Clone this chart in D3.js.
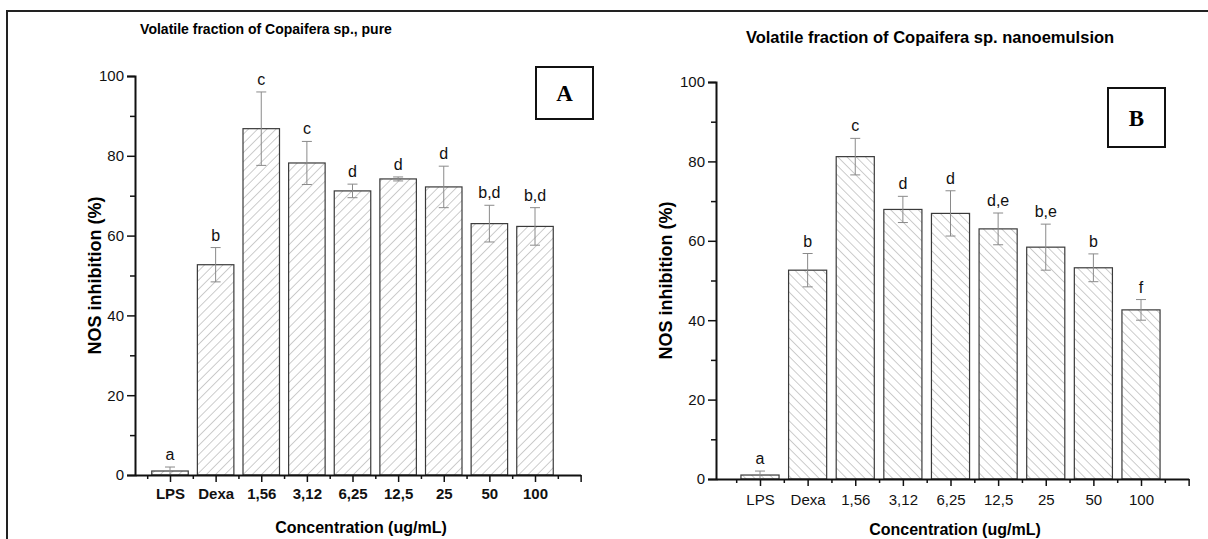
<!DOCTYPE html>
<html lang="en">
<head>
    <meta charset="utf-8">
    <title>NOS inhibition - Copaifera sp.</title>
    <script src="https://d3js.org/d3.v7.min.js"></script>
    <style>
        body { margin: 0; background: white; }
        text { font-family: Arial, "Liberation Sans", sans-serif; }
    </style>
</head>
<body>
    <div id="chart"></div>
    <script>
        // categories shared by both panels
        const categories = ["LPS", "Dexa", "1,56", "3,12", "6,25", "12,5", "25", "50", "100"];

        // panel A: pure volatile fraction
        const pureMeans = [1.0, 52.7, 86.8, 78.2, 71.2, 74.2, 72.2, 63.0, 62.3];
        const pureErrors = [1.0, 4.3, 9.2, 5.4, 1.7, 0.5, 5.2, 4.6, 4.7];
        const pureLetters = ["a", "b", "c", "c", "d", "d", "d", "b,d", "b,d"];

        // panel B: nanoemulsion
        const nanoMeans = [1.0, 52.6, 81.2, 67.9, 66.9, 63.0, 58.4, 53.2, 42.6];
        const nanoErrors = [1.0, 4.2, 4.6, 3.3, 5.7, 4.0, 5.8, 3.5, 2.6];
        const nanoLetters = ["a", "b", "c", "d", "d", "d,e", "b,e", "b", "f"];

        const yTicks = [0, 20, 40, 60, 80, 100];

        const width = 1208, height = 539;
        const svg = d3.select("#chart").append("svg")
            .attr("width", width)
            .attr("height", height);

        // hatch patterns: "/" for A, "\" for B
        const defs = svg.append("defs");
        function hatch(id, dir) {
            const p = defs.append("pattern")
                .attr("id", id)
                .attr("patternUnits", "userSpaceOnUse")
                .attr("width", 6.5).attr("height", 6.5)
                .attr("patternTransform", "rotate(" + dir + ")");
            p.append("rect").attr("width", 6.5).attr("height", 6.5).attr("fill", "white");
            p.append("line")
                .attr("x1", 0).attr("y1", 0).attr("x2", 0).attr("y2", 6.5)
                .attr("stroke", "#9a9a9a").attr("stroke-width", 1);
        }
        hatch("hatchA", 45);
        hatch("hatchB", -45);

        // outer frame (top + left edge)
        svg.append("line").attr("x1", 6).attr("y1", 11).attr("x2", width).attr("y2", 11)
            .attr("stroke", "#222").attr("stroke-width", 2);
        svg.append("line").attr("x1", 7).attr("y1", 11).attr("x2", 7).attr("y2", height)
            .attr("stroke", "#222").attr("stroke-width", 2);

        function drawPanel(opt) {
            const g = svg.append("g");
            // category k sits at position k+1; axis starts where the y axis is
            const x = d3.scaleLinear().domain([1, 9]).range([opt.xFirst, opt.xLast]);
            const xStart = x.invert(opt.x0);
            const y = d3.scaleLinear().domain([0, 100]).range([opt.y0, opt.yTop]);
            const barW = (x(2) - x(1)) * 0.8;

            // bars
            g.selectAll("rect.bar")
                .data(opt.means)
                .enter().append("rect")
                .attr("class", "bar")
                .attr("x", (d, i) => x(i + 1) - barW / 2)
                .attr("y", d => y(d))
                .attr("width", barW)
                .attr("height", d => y(0) - y(d))
                .attr("fill", "url(#" + opt.pattern + ")")
                .attr("stroke", "#3a3a3a")
                .attr("stroke-width", 1.2);

            // error bars
            const eb = g.selectAll("g.err")
                .data(opt.means)
                .enter().append("g")
                .attr("stroke", "#8a8a8a")
                .attr("stroke-width", 1);
            eb.append("line")
                .attr("x1", (d, i) => x(i + 1)).attr("x2", (d, i) => x(i + 1))
                .attr("y1", (d, i) => y(d + opt.errs[i]))
                .attr("y2", (d, i) => y(d - opt.errs[i]));
            eb.append("line")
                .attr("x1", (d, i) => x(i + 1) - 5).attr("x2", (d, i) => x(i + 1) + 5)
                .attr("y1", (d, i) => y(d + opt.errs[i]))
                .attr("y2", (d, i) => y(d + opt.errs[i]));
            eb.append("line")
                .attr("x1", (d, i) => x(i + 1) - 5).attr("x2", (d, i) => x(i + 1) + 5)
                .attr("y1", (d, i) => y(Math.max(0, d - opt.errs[i])))
                .attr("y2", (d, i) => y(Math.max(0, d - opt.errs[i])));

            // significance letters
            g.selectAll("text.letter")
                .data(opt.means)
                .enter().append("text")
                .attr("x", (d, i) => x(i + 1))
                .attr("y", (d, i) => y(d + opt.errs[i]) - 7)
                .attr("text-anchor", "middle")
                .style("font-size", "16px")
                .attr("fill", "#111")
                .text((d, i) => opt.letters[i]);

            // y axis
            const yAxis = g.append("g")
                .attr("transform", "translate(" + opt.x0 + ",0)")
                .call(d3.axisLeft(y).tickValues(yTicks).tickSize(8).tickPadding(3));
            g.append("g")
                .attr("transform", "translate(" + opt.x0 + ",0)")
                .call(d3.axisLeft(y).tickValues([10, 30, 50, 70, 90]).tickSize(5).tickFormat(""))
                .call(a => a.select(".domain").remove());

            // x axis, running from the y axis to one step past the last bar
            const xAx = x.copy().domain([xStart, 10]).range([opt.x0, x(10)]);
            const xAxis = g.append("g")
                .attr("transform", "translate(0," + opt.y0 + ")")
                .call(d3.axisBottom(xAx).tickValues(d3.range(1, 11)).tickSize(7).tickPadding(opt.xPad)
                    .tickSizeOuter(0)
                    .tickFormat(d => (d >= 1 && d <= 9) ? categories[d - 1] : ""));
            g.append("g")
                .attr("transform", "translate(0," + opt.y0 + ")")
                .call(d3.axisBottom(xAx).tickValues(d3.range(0.5, 10, 1).filter(v => v > xStart)).tickSize(4).tickFormat(""))
                .call(a => a.select(".domain").remove());

            g.selectAll(".domain").attr("stroke", "#111").attr("stroke-width", 2);
            g.selectAll(".tick line").attr("stroke", "#111").attr("stroke-width", 1.5);
            yAxis.selectAll("text").style("font-size", "15px").attr("fill", "#111");
            xAxis.selectAll("text")
                .style("font-size", "15px")
                .style("font-weight", opt.boldX ? "bold" : "normal")
                .attr("fill", "#111");

            // titles
            g.append("text")
                .attr("x", opt.titleX).attr("y", opt.titleY)
                .attr("text-anchor", "middle")
                .style("font-size", opt.titleSize).style("font-weight", "bold")
                .text(opt.title);
            g.append("text")
                .attr("x", opt.xTitleX).attr("y", opt.xTitleY)
                .attr("text-anchor", "middle")
                .style("font-size", "16px").style("font-weight", "bold")
                .text("Concentration (ug/mL)");
            g.append("text")
                .attr("transform", "translate(" + opt.yTitleX + "," + (opt.y0 + opt.yTop) / 2 + ") rotate(-90)")
                .attr("text-anchor", "middle")
                .style("font-size", "18px").style("font-weight", "bold")
                .text("NOS inhibition (%)");

            // panel label box
            g.append("rect")
                .attr("x", opt.box[0]).attr("y", opt.box[1])
                .attr("width", opt.box[2]).attr("height", opt.box[3])
                .attr("fill", "white").attr("stroke", "#111").attr("stroke-width", 2);
            g.append("text")
                .attr("x", opt.box[0] + opt.box[2] / 2)
                .attr("y", opt.box[1] + opt.box[3] / 2 + 8)
                .attr("text-anchor", "middle")
                .style("font-family", "'Liberation Serif', 'Times New Roman', serif")
                .style("font-size", "23px").style("font-weight", "bold")
                .text(opt.label);
        }

        drawPanel({
            means: pureMeans, errs: pureErrors, letters: pureLetters,
            pattern: "hatchA", boldX: true, xPad: 6,
            x0: 135, xFirst: 170, xLast: 535, y0: 475, yTop: 76,
            title: "Volatile fraction of Copaifera sp., pure", titleX: 266, titleY: 34, titleSize: "14px",
            xTitleX: 361, xTitleY: 533, yTitleX: 101,
            box: [536, 67, 57, 52], label: "A"
        });

        drawPanel({
            means: nanoMeans, errs: nanoErrors, letters: nanoLetters,
            pattern: "hatchB", boldX: false, xPad: 8,
            x0: 716, xFirst: 760, xLast: 1141, y0: 479, yTop: 82,
            title: "Volatile fraction of Copaifera sp. nanoemulsion", titleX: 930, titleY: 43, titleSize: "16.5px",
            xTitleX: 955, xTitleY: 535, yTitleX: 672,
            box: [1108, 88, 57, 59], label: "B"
        });
    </script>
</body>
</html>
